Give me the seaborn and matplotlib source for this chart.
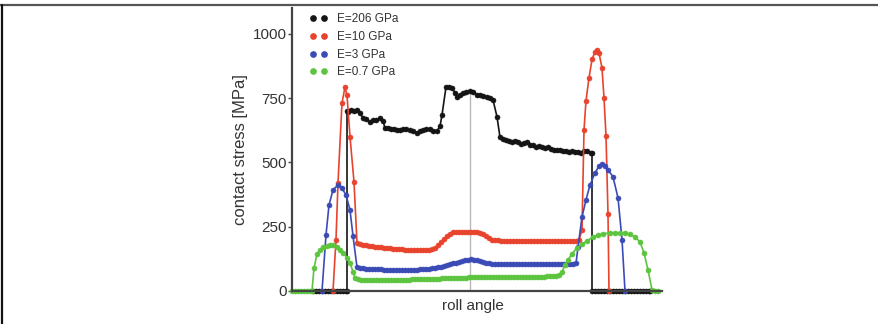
import numpy as np
import pandas as pd
import seaborn as sns
import matplotlib.pyplot as plt
from matplotlib.lines import Line2D

# Contact stress along roll angle for four elastic moduli
labels = ['E=206 GPa', 'E=10 GPa', 'E=3 GPa', 'E=0.7 GPa']
colors = ['#141414', '#e8432d', '#3b4bb5', '#5cc43e']

e206_x = [21, 24, 27, 30, 33, 36, 39, 42, 45, 48, 51, 54, 55, 55,
          56, 59, 62, 65, 68, 71, 74, 78, 81, 84,
          88, 91, 93, 96, 99, 102, 105, 108, 111, 114,
          118, 121, 125, 128, 131, 134, 138, 141, 145, 148,
          150, 154, 157, 160, 163, 165, 168, 171, 174, 178,
          181, 185, 188, 191, 195, 198, 201, 205, 208, 211,
          214, 217, 220, 223, 226, 229, 232, 235, 238, 241,
          244, 247, 250, 253, 256, 259, 262, 265, 268, 271,
          274, 277, 280, 283, 286, 289, 292, 295, 299, 300,
          300, 303, 306, 309, 312, 315, 318, 321, 324, 327,
          330, 333, 336, 339, 342, 345, 348, 351, 354, 357, 358]
e206_y = [0, 0, 0, 0, 0, 0, 0, 0, 0, 0, 0, 0, 0, 700,
          696, 702, 700, 704, 690, 673, 668, 657, 664, 666,
          673, 660, 634, 632, 630, 628, 626, 624, 630, 628,
          626, 622, 615, 620, 626, 630, 630, 620, 622, 640,
          684, 793, 792, 790, 770, 755, 762, 770, 772, 778,
          774, 762, 760, 758, 755, 752, 743, 677, 598, 592,
          585, 584, 580, 582, 578, 572, 576, 578, 568, 566,
          560, 562, 558, 556, 558, 552, 550, 548, 550, 546,
          545, 541, 544, 540, 542, 538, 544, 544, 537, 537,
          0, 0, 0, 0, 0, 0, 0, 0, 0, 0,
          0, 0, 0, 0, 0, 0, 0, 0, 0, 0, 0]

e10_x = [41, 44, 46, 50, 53, 55, 58, 62, 65,
         68, 71, 74, 77, 80, 83, 86, 89, 92, 95,
         98, 101, 104, 107, 110, 113, 116, 119, 122, 125,
         128, 131, 134, 137, 140, 143, 146, 149, 152, 155,
         158, 161, 164, 167, 170, 173, 176, 179, 182, 185,
         188, 191, 194, 197, 200, 203, 206, 209, 212, 215,
         218, 221, 224, 227, 230, 233, 236, 239, 242, 245,
         248, 251, 254, 257, 260, 263, 266, 269, 272, 275,
         278, 281, 284, 287,
         290, 292, 294, 297, 300, 303, 305, 307, 310, 312, 314, 316, 317]
e10_y = [0, 200, 420, 731, 793, 760, 600, 424, 187,
         182, 178, 177, 175, 174, 172, 172, 170, 168, 168,
         166, 165, 164, 163, 162, 161, 160, 160, 158, 158,
         158, 158, 158, 160, 162, 168, 178, 190, 202, 214,
         222, 228, 230, 230, 231, 230, 230, 229, 228, 228,
         226, 222, 212, 205, 200, 198, 197, 196, 196, 195,
         195, 195, 194, 194, 194, 194, 194, 194, 194, 194,
         194, 194, 194, 194, 194, 194, 194, 194, 195, 195,
         195, 196, 196, 198,
         237, 626, 740, 828, 900, 930, 937, 925, 867, 750, 603, 300, 0]

e3_x = [30, 34, 37, 41, 46, 50, 54, 58, 61, 65,
        68, 71, 74, 77, 80, 83, 86, 89, 92, 95,
        98, 101, 104, 107, 110, 113, 116, 119, 122, 125,
        128, 131, 134, 137, 140, 143, 146, 149, 152, 155,
        158, 161, 164, 167, 170, 173, 176, 179, 182, 185,
        188, 191, 194, 197, 200, 203, 206, 209, 212, 215,
        218, 221, 224, 227, 230, 233, 236, 239, 242, 245,
        248, 251, 254, 257, 260, 263, 266, 269, 272, 275,
        278, 281, 284,
        286, 290, 294, 298, 303, 307, 310, 313, 316, 321, 326, 330, 333]
e3_y = [0, 218, 334, 393, 412, 400, 373, 315, 214, 93,
        90, 88, 87, 86, 86, 85, 84, 84, 83, 83,
        82, 82, 82, 82, 82, 82, 82, 82, 83, 83,
        84, 85, 86, 87, 89, 91, 93, 95, 98, 101,
        104, 107, 110, 113, 116, 119, 122, 124, 122, 119,
        115, 112, 109, 107, 106, 105, 104, 104, 104, 104,
        104, 104, 104, 104, 104, 104, 104, 104, 104, 104,
        104, 104, 104, 104, 104, 104, 104, 104, 104, 104,
        104, 106, 108,
        170, 288, 354, 412, 459, 485, 494, 485, 471, 444, 362, 200, 0]

e07_x = [0, 3, 6, 9, 12, 15, 18, 20,
         22, 25, 28, 31, 35, 38, 41, 45, 48, 51, 55, 58, 61, 63, 66,
         69, 72, 75, 78, 81, 84, 87, 90, 93, 96,
         99, 102, 105, 108, 111, 114, 117, 120, 123, 126,
         129, 132, 135, 138, 141, 144, 147, 150, 153, 156,
         159, 162, 165, 168, 171, 174, 177, 180, 183, 186,
         189, 192, 195, 198, 201, 204, 207, 210, 213, 216,
         219, 222, 225, 228, 231, 234, 237, 240, 243, 246,
         249, 252, 255, 258, 261, 264,
         267, 270, 273, 276, 280, 285, 290, 295, 301, 306, 311, 318,
         323, 328, 333, 338, 343, 348, 352, 356, 360, 363, 366]
e07_y = [0, 0, 0, 0, 0, 0, 0, 0,
         89, 144, 160, 171, 176, 179, 177, 171, 160, 148, 130, 109, 75, 51, 45,
         44, 43, 43, 43, 43, 43, 43, 43, 43, 43,
         43, 43, 43, 44, 44, 44, 44, 45, 45, 45,
         46, 46, 46, 47, 47, 48, 48, 49, 49, 50,
         50, 51, 51, 52, 52, 52, 53, 53, 53, 53,
         53, 53, 54, 54, 54, 54, 54, 54, 55, 55,
         55, 55, 55, 55, 55, 55, 55, 56, 56, 56,
         56, 56, 57, 57, 58, 58,
         62, 75, 100, 121, 145, 167, 182, 195, 210, 218, 222, 226,
         226, 225, 224, 222, 210, 191, 148, 82, 4, 0, 0]

center_angle = 178
center_top = 778

series = [(e206_x, e206_y), (e10_x, e10_y), (e3_x, e3_y), (e07_x, e07_y)]

sns.set_style("ticks")
plt.rcParams['font.family'] = ['Liberation Sans', 'DejaVu Sans']
text_color = '#333333'

fig = plt.figure(figsize=(8.79, 3.24), dpi=100)
ax = fig.add_axes([292 / 879, 33 / 324, 370 / 879, 283 / 324])

ax.vlines(center_angle, 0, center_top, color='#b8b8b8', lw=1, zorder=0)

for (xs, ys), lab, c in zip(series, labels, colors):
    df = pd.DataFrame({'angle': xs, 'stress': ys})
    sns.lineplot(data=df, x='angle', y='stress', sort=False, estimator=None,
                 color=c, lw=1.2, marker='o', markersize=3.6,
                 markeredgewidth=0.4, markeredgecolor=c, clip_on=False,
                 legend=False, ax=ax)

ax.set_xlim(0, 370)
ax.set_ylim(0, 1100)
ax.set_xticks([])
ax.set_yticks([0, 250, 500, 750, 1000])
ax.tick_params(axis='y', direction='out', length=3, width=1, pad=1,
               labelsize=11, colors='#444444', labelcolor=text_color)
for s in ['top', 'right']:
    ax.spines[s].set_visible(False)
for s in ['left', 'bottom']:
    ax.spines[s].set_color('#444444')
    ax.spines[s].set_linewidth(1.6)

ax.set_ylabel('contact stress [MPa]', fontsize=12, color=text_color, labelpad=3)
ax.set_xlabel('roll angle', fontsize=11, color=text_color)
ax.xaxis.set_label_coords(0.49, -0.03, transform=ax.transAxes)
ax.xaxis.label.set_va('top')

handles = [Line2D([], [], ls='none', marker='o', color=c, markersize=3.8)
           for c in colors]
ax.legend(handles, labels, loc='upper left', bbox_to_anchor=(0.025, 1.01),
          frameon=False, numpoints=2, fontsize=8.5, labelspacing=0.48,
          handlelength=1.5, handletextpad=0.8, labelcolor=text_color,
          borderaxespad=0.3)

# picture frame
fig.add_artist(Line2D([0, 1], [1 - 4.5 / 324] * 2, transform=fig.transFigure,
                      color='#555555', lw=1.6))
fig.add_artist(Line2D([2.5 / 879] * 2, [0, 1 - 4.5 / 324], transform=fig.transFigure,
                      color='#111111', lw=1.6))

fig.savefig('out.png', dpi=100, facecolor='white')
